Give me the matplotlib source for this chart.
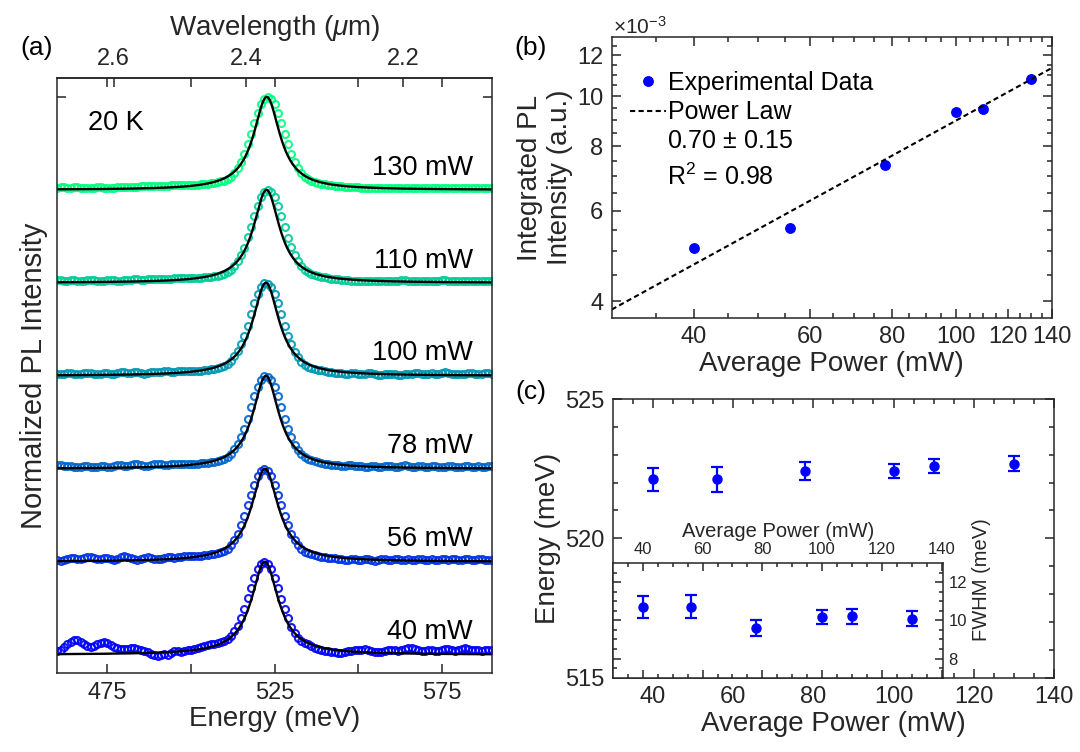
import numpy as np
import matplotlib
matplotlib.use('Agg')
import matplotlib.pyplot as plt
from matplotlib.ticker import FixedLocator, NullFormatter

plt.rcParams['font.family'] = ['Liberation Sans', 'DejaVu Sans']
plt.rcParams['mathtext.fontset'] = 'custom'
plt.rcParams['mathtext.rm'] = 'Liberation Sans'
plt.rcParams['mathtext.it'] = 'Liberation Sans:italic'
plt.rcParams['axes.linewidth'] = 1.1
plt.rcParams['axes.edgecolor'] = '#262626'
plt.rcParams['axes.labelcolor'] = '#262626'
plt.rcParams['xtick.color'] = '#262626'
plt.rcParams['ytick.color'] = '#262626'

W, H = 1080, 752

# ---------------- data ----------------
# (a) normalized PL spectra, 1 meV sampling
energy = np.arange(460, 591)
powers = [40, 56, 78, 100, 110, 130]

pl_40 = [0.04, 0.05, 0.08, 0.11, 0.14, 0.16, 0.16, 0.14, 0.11, 0.09,
         0.08, 0.09, 0.11, 0.13, 0.14, 0.13, 0.10, 0.08, 0.07, 0.06,
         0.06, 0.06, 0.07, 0.07, 0.06, 0.05, 0.04, 0.03, 0.01, 0.00,
         -0.01, 0.00, 0.01, 0.00, 0.02, 0.04, 0.04, 0.03, 0.04, 0.05,
         0.05, 0.06, 0.07, 0.08, 0.09, 0.10, 0.11, 0.12, 0.13, 0.14,
         0.15, 0.17, 0.20, 0.25, 0.31, 0.39, 0.49, 0.61, 0.72, 0.83,
         0.92, 0.98, 1.00, 0.98, 0.92, 0.83, 0.72, 0.60, 0.49, 0.39,
         0.30, 0.23, 0.18, 0.15, 0.13, 0.11, 0.09, 0.07, 0.06, 0.05,
         0.04, 0.04, 0.03, 0.03, 0.02, 0.02, 0.03, 0.04, 0.04, 0.05,
         0.05, 0.05, 0.06, 0.05, 0.04, 0.03, 0.03, 0.03, 0.04, 0.05,
         0.05, 0.05, 0.04, 0.05, 0.06, 0.07, 0.07, 0.06, 0.05, 0.04,
         0.04, 0.05, 0.05, 0.04, 0.04, 0.05, 0.06, 0.06, 0.05, 0.04,
         0.05, 0.06, 0.07, 0.06, 0.05, 0.05, 0.05, 0.04, 0.05, 0.05,
         0.05]
pl_56 = [0.02, 0.01, 0.02, 0.03, 0.04, 0.04, 0.03, 0.03, 0.04, 0.05,
         0.05, 0.04, 0.03, 0.03, 0.04, 0.04, 0.03, 0.02, 0.03, 0.05,
         0.06, 0.05, 0.04, 0.03, 0.02, 0.03, 0.04, 0.05, 0.04, 0.03,
         0.03, 0.03, 0.04, 0.05, 0.05, 0.04, 0.05, 0.05, 0.06, 0.06,
         0.06, 0.06, 0.06, 0.06, 0.07, 0.07, 0.08, 0.08, 0.09, 0.10,
         0.12, 0.14, 0.18, 0.23, 0.30, 0.39, 0.49, 0.61, 0.72, 0.83,
         0.92, 0.98, 1.00, 0.98, 0.92, 0.83, 0.72, 0.61, 0.49, 0.39,
         0.30, 0.23, 0.18, 0.14, 0.11, 0.09, 0.08, 0.07, 0.06, 0.05,
         0.05, 0.04, 0.04, 0.04, 0.03, 0.03, 0.02, 0.02, 0.03, 0.03,
         0.02, 0.02, 0.03, 0.03, 0.02, 0.01, 0.02, 0.03, 0.03, 0.02,
         0.02, 0.03, 0.03, 0.02, 0.02, 0.03, 0.02, 0.02, 0.03, 0.03,
         0.02, 0.02, 0.03, 0.02, 0.02, 0.03, 0.03, 0.02, 0.03, 0.03,
         0.02, 0.02, 0.03, 0.03, 0.02, 0.02, 0.03, 0.03, 0.02, 0.02,
         0.02]
pl_78 = [0.04, 0.04, 0.03, 0.03, 0.03, 0.02, 0.02, 0.02, 0.03, 0.03,
         0.02, 0.02, 0.02, 0.03, 0.03, 0.02, 0.02, 0.03, 0.04, 0.04,
         0.03, 0.03, 0.04, 0.05, 0.05, 0.04, 0.03, 0.03, 0.04, 0.05,
         0.05, 0.05, 0.04, 0.04, 0.05, 0.05, 0.05, 0.05, 0.05, 0.05,
         0.05, 0.05, 0.05, 0.06, 0.06, 0.06, 0.07, 0.07, 0.08, 0.09,
         0.11, 0.13, 0.16, 0.21, 0.27, 0.34, 0.43, 0.54, 0.66, 0.78,
         0.88, 0.95, 1.00, 0.99, 0.95, 0.88, 0.78, 0.66, 0.54, 0.43,
         0.34, 0.26, 0.20, 0.16, 0.13, 0.11, 0.09, 0.08, 0.07, 0.06,
         0.05, 0.05, 0.04, 0.04, 0.04, 0.03, 0.03, 0.04, 0.04, 0.03,
         0.03, 0.03, 0.02, 0.02, 0.03, 0.03, 0.02, 0.02, 0.03, 0.03,
         0.03, 0.02, 0.02, 0.03, 0.04, 0.03, 0.02, 0.02, 0.03, 0.03,
         0.02, 0.02, 0.03, 0.03, 0.02, 0.02, 0.02, 0.03, 0.03, 0.02,
         0.02, 0.02, 0.03, 0.03, 0.02, 0.02, 0.03, 0.02, 0.02, 0.03,
         0.03]
pl_100 = [0.02, 0.02, 0.02, 0.03, 0.03, 0.02, 0.02, 0.02, 0.03, 0.03,
          0.03, 0.02, 0.02, 0.02, 0.03, 0.03, 0.02, 0.02, 0.03, 0.04,
          0.04, 0.03, 0.03, 0.04, 0.04, 0.03, 0.02, 0.03, 0.04, 0.04,
          0.04, 0.04, 0.05, 0.05, 0.04, 0.04, 0.05, 0.05, 0.05, 0.05,
          0.05, 0.05, 0.05, 0.05, 0.06, 0.06, 0.07, 0.07, 0.08, 0.09,
          0.11, 0.13, 0.16, 0.21, 0.27, 0.34, 0.43, 0.54, 0.66, 0.78,
          0.88, 0.95, 1.00, 0.99, 0.95, 0.88, 0.78, 0.66, 0.54, 0.43,
          0.34, 0.26, 0.20, 0.15, 0.12, 0.10, 0.08, 0.07, 0.06, 0.06,
          0.05, 0.04, 0.04, 0.03, 0.03, 0.03, 0.02, 0.02, 0.03, 0.03,
          0.02, 0.02, 0.02, 0.03, 0.03, 0.02, 0.01, 0.01, 0.02, 0.02,
          0.02, 0.02, 0.01, 0.01, 0.02, 0.02, 0.02, 0.03, 0.03, 0.02,
          0.02, 0.02, 0.03, 0.02, 0.02, 0.03, 0.04, 0.03, 0.02, 0.02,
          0.02, 0.02, 0.02, 0.03, 0.03, 0.02, 0.02, 0.02, 0.03, 0.03,
          0.02]
pl_110 = [0.03, 0.03, 0.02, 0.02, 0.03, 0.03, 0.02, 0.02, 0.02, 0.03,
          0.03, 0.03, 0.02, 0.02, 0.02, 0.03, 0.03, 0.03, 0.02, 0.02,
          0.03, 0.03, 0.03, 0.04, 0.04, 0.03, 0.03, 0.04, 0.04, 0.04,
          0.04, 0.04, 0.04, 0.04, 0.04, 0.05, 0.05, 0.05, 0.05, 0.05,
          0.05, 0.05, 0.05, 0.05, 0.06, 0.06, 0.06, 0.07, 0.07, 0.08,
          0.10, 0.12, 0.14, 0.18, 0.23, 0.30, 0.38, 0.49, 0.60, 0.72,
          0.83, 0.92, 0.98, 1.00, 0.98, 0.92, 0.83, 0.72, 0.60, 0.48,
          0.39, 0.30, 0.23, 0.18, 0.14, 0.12, 0.10, 0.08, 0.07, 0.06,
          0.06, 0.05, 0.04, 0.04, 0.04, 0.03, 0.03, 0.03, 0.02, 0.02,
          0.02, 0.02, 0.02, 0.02, 0.02, 0.02, 0.02, 0.02, 0.02, 0.02,
          0.02, 0.02, 0.02, 0.03, 0.03, 0.02, 0.02, 0.02, 0.02, 0.02,
          0.02, 0.02, 0.02, 0.02, 0.02, 0.03, 0.03, 0.02, 0.02, 0.02,
          0.02, 0.02, 0.02, 0.02, 0.02, 0.02, 0.02, 0.02, 0.02, 0.02,
          0.02]
pl_130 = [0.02, 0.03, 0.03, 0.02, 0.02, 0.03, 0.03, 0.02, 0.02, 0.02,
          0.02, 0.02, 0.03, 0.03, 0.02, 0.02, 0.02, 0.02, 0.03, 0.03,
          0.03, 0.03, 0.03, 0.03, 0.03, 0.04, 0.04, 0.04, 0.04, 0.04,
          0.04, 0.04, 0.04, 0.04, 0.05, 0.05, 0.05, 0.05, 0.05, 0.05,
          0.05, 0.05, 0.05, 0.06, 0.06, 0.06, 0.07, 0.07, 0.08, 0.09,
          0.10, 0.12, 0.14, 0.18, 0.23, 0.30, 0.39, 0.49, 0.60, 0.72,
          0.83, 0.92, 0.98, 1.00, 0.98, 0.92, 0.83, 0.72, 0.60, 0.49,
          0.39, 0.30, 0.23, 0.18, 0.14, 0.12, 0.10, 0.08, 0.07, 0.06,
          0.06, 0.05, 0.05, 0.04, 0.04, 0.04, 0.03, 0.03, 0.03, 0.03,
          0.03, 0.02, 0.02, 0.02, 0.02, 0.02, 0.02, 0.02, 0.02, 0.02,
          0.02, 0.02, 0.02, 0.02, 0.02, 0.02, 0.02, 0.02, 0.02, 0.02,
          0.02, 0.02, 0.02, 0.02, 0.02, 0.02, 0.02, 0.02, 0.02, 0.02,
          0.02, 0.02, 0.02, 0.02, 0.02, 0.02, 0.02, 0.02, 0.02, 0.02,
          0.02]
spectra = [pl_40, pl_56, pl_78, pl_100, pl_110, pl_130]
fit_width = [9.8, 9.8, 9.5, 9.6, 9.6, 9.6]   # Lorentzian fit FWHM (meV) in (a)

# (b) integrated PL vs power
power_b = [40, 56, 78, 100, 110, 130]
int_pl = [5.07e-3, 5.54e-3, 7.35e-3, 9.31e-3, 9.44e-3, 10.81e-3]
power_law_exp = 0.70

# (c) peak energy and FWHM vs power
power_c = [40, 56, 78, 100, 110, 130]
peak_energy = [522.12, 522.12, 522.42, 522.42, 522.60, 522.68]
peak_energy_err = [0.41, 0.44, 0.32, 0.25, 0.26, 0.28]
fwhm = [10.70, 10.70, 9.60, 10.18, 10.21, 10.09]
fwhm_err = [0.57, 0.60, 0.43, 0.35, 0.39, 0.38]


def px(left, top, right, bottom):
    return [left / W, 1 - bottom / H, (right - left) / W, (bottom - top) / H]


fig = plt.figure(figsize=(W / 100, H / 100), dpi=100)

# ---------------- (a) ----------------
ax_a = fig.add_axes(px(57.3, 78.3, 491.7, 673.3))
cmap = plt.get_cmap('winter')
e_fit = np.linspace(460, 590, 800)
for k, (p, spec) in enumerate(zip(powers, spectra)):
    col = cmap(k / (len(powers) - 1))
    ax_a.plot(energy, np.array(spec) + k, 'o', mfc='none', mec=col,
              ms=5, mew=1.5, alpha=0.9)
    fit = 1 / (1 + ((e_fit - peak_energy[k]) / (fit_width[k] / 2)) ** 2)
    ax_a.plot(e_fit, fit + k, color='black', lw=1.7)
    ax_a.text(584.3, k + 0.24, f'{p} mW', ha='right', va='center',
              fontsize=19.5, color='black')
ax_a.text(469.2, 5.72, '20 K', ha='left', va='center', fontsize=19.5)

ax_a.set_xlim(460, 590)
ax_a.set_ylim(-0.2, 6.2)
ax_a.set_xticks([475, 500, 525, 550, 575], ['475', '', '525', '', '575'])
ax_a.set_yticks([6], [''])
ax_a.tick_params(direction='in', top=True, right=True, length=6.5,
                 width=1.1, labelsize=17, pad=6)
ax_a.set_xlabel('Energy (meV)', fontsize=20, labelpad=2)
ax_a.set_ylabel('Normalized PL Intensity', fontsize=21, labelpad=1)


def e2wl(e):
    e = np.asarray(e, dtype=float)
    with np.errstate(divide='ignore'):
        return 1239.84 / e


sec = ax_a.secondary_xaxis('top', functions=(e2wl, e2wl))
sec.set_xticks([2.6, 2.4, 2.2], ['2.6', '2.4', '2.2'])
sec.tick_params(direction='in', length=6.5, width=1.1, labelsize=17, pad=6)
sec.set_xlabel(r'Wavelength ($\mu$m)', fontsize=20, labelpad=9)

# ---------------- (b) ----------------
ax_b = fig.add_axes(px(611.7, 37.3, 1052, 318))
ax_b.set_xscale('log')
ax_b.set_yscale('log')
ax_b.plot(power_b, int_pl, 'o', color='blue', ms=6.8, label='Experimental Data')
log_amp = np.mean(np.log(int_pl) - power_law_exp * np.log(power_b))
xl = np.geomspace(30, 140, 60)
ax_b.plot(xl, np.exp(log_amp) * xl ** power_law_exp, color='black', lw=1.5,
          dashes=(2.5, 1.6), label='Power Law')
ax_b.set_xlim(30, 140)
ax_b.set_ylim(3.715e-3, 13e-3)
ax_b.xaxis.set_major_locator(FixedLocator([40, 60, 80, 100, 120, 140]))
ax_b.set_xticklabels(['40', '60', '80', '100', '120', '140'])
ax_b.xaxis.set_minor_locator(FixedLocator(np.arange(35, 140, 5)))
ax_b.xaxis.set_minor_formatter(NullFormatter())
ax_b.yaxis.set_major_locator(FixedLocator([4e-3, 6e-3, 8e-3, 10e-3, 12e-3]))
ax_b.set_yticklabels(['4', '6', '8', '10', '12'])
ax_b.yaxis.set_minor_locator(FixedLocator(np.arange(4.5e-3, 13e-3, 0.5e-3)))
ax_b.yaxis.set_minor_formatter(NullFormatter())
ax_b.tick_params(which='both', direction='in', top=True, right=True,
                 width=1.1, labelsize=17, pad=6)
ax_b.tick_params(which='major', length=6.5)
ax_b.tick_params(which='minor', length=3.5)
ax_b.set_xlabel('Average Power (mW)', fontsize=20, labelpad=2)
ax_b.set_ylabel('Integrated PL\nIntensity (a.u.)', fontsize=20, labelpad=3)
ax_b.legend(loc='upper left', bbox_to_anchor=(0.0416, 0.880), frameon=False,
            fontsize=18, handlelength=1.45, handletextpad=0.05,
            borderpad=0, borderaxespad=0, labelspacing=0.22)
ax_b.text(0.126, 0.605, r'0.70 $\pm$ 0.15', transform=ax_b.transAxes,
          fontsize=18, va='baseline', ha='left')
ax_b.text(0.126, 0.474, r'R$^2$ = 0.98', transform=ax_b.transAxes,
          fontsize=18, va='baseline', ha='left')
fig.text(613 / W, 1 - 34 / H, r'$\times$10$^{-3}$', fontsize=15,
         color='#262626', va='baseline', ha='left')

# ---------------- (c) ----------------
ax_c = fig.add_axes(px(612.7, 399, 1054, 677.7))
ax_c.errorbar(power_c, peak_energy, yerr=peak_energy_err, fmt='o', color='blue',
              ms=6.5, elinewidth=1.6, capsize=4.5, capthick=1.6)
ax_c.set_xlim(30, 140)
ax_c.set_ylim(515, 525)
ax_c.set_xticks([40, 60, 80, 100, 120, 140])
ax_c.set_xticks(np.arange(35, 140, 5), minor=True)
ax_c.set_yticks([515, 520, 525])
ax_c.set_yticks(np.arange(516, 525, 1), minor=True)
ax_c.tick_params(which='both', direction='in', top=True, right=True,
                 width=1.1, labelsize=17, pad=6)
ax_c.tick_params(which='major', length=6.5)
ax_c.tick_params(which='minor', length=3.5)
ax_c.set_xlabel('Average Power (mW)', fontsize=20, labelpad=2)
ax_c.set_ylabel('Energy (meV)', fontsize=20, labelpad=3)

ax_i = fig.add_axes(px(613, 563, 943, 677.7))
ax_i.set_facecolor('white')
ax_i.errorbar(power_c, fwhm, yerr=fwhm_err, fmt='o', color='blue',
              ms=6.5, elinewidth=1.6, capsize=4.5, capthick=1.6)
ax_i.set_xlim(30, 140.5)
ax_i.set_ylim(7, 13)
ax_i.set_xticks([40, 60, 80, 100, 120, 140])
ax_i.set_xticks(np.arange(35, 140, 5), minor=True)
ax_i.set_yticks([8, 10, 12])
ax_i.set_yticks(np.arange(7.5, 13, 0.5), minor=True)
ax_i.xaxis.tick_top()
ax_i.xaxis.set_label_position('top')
ax_i.tick_params(which='both', direction='in', top=True, bottom=True,
                 left=True, right=True, labelleft=False, labelright=True,
                 labeltop=True, labelbottom=False, width=1.1, labelsize=12,
                 pad=4)
ax_i.tick_params(which='major', length=5.5)
ax_i.tick_params(which='minor', length=3)
ax_i.set_xlabel('Average Power (mW)', fontsize=14.5, labelpad=4)
ax_i.text(1.117, 0.854, 'FWHM (meV)', transform=ax_i.transAxes, rotation=90,
          ha='center', va='center', fontsize=14.5, color='#262626')

# panel labels
fig.text(37 / W, 1 - 48 / H, '(a)', fontsize=19, ha='center', va='center')
fig.text(531 / W, 1 - 48 / H, '(b)', fontsize=19, ha='center', va='center')
fig.text(531 / W, 1 - 392 / H, '(c)', fontsize=19, ha='center', va='center')

fig.savefig('out.png', dpi=100)
